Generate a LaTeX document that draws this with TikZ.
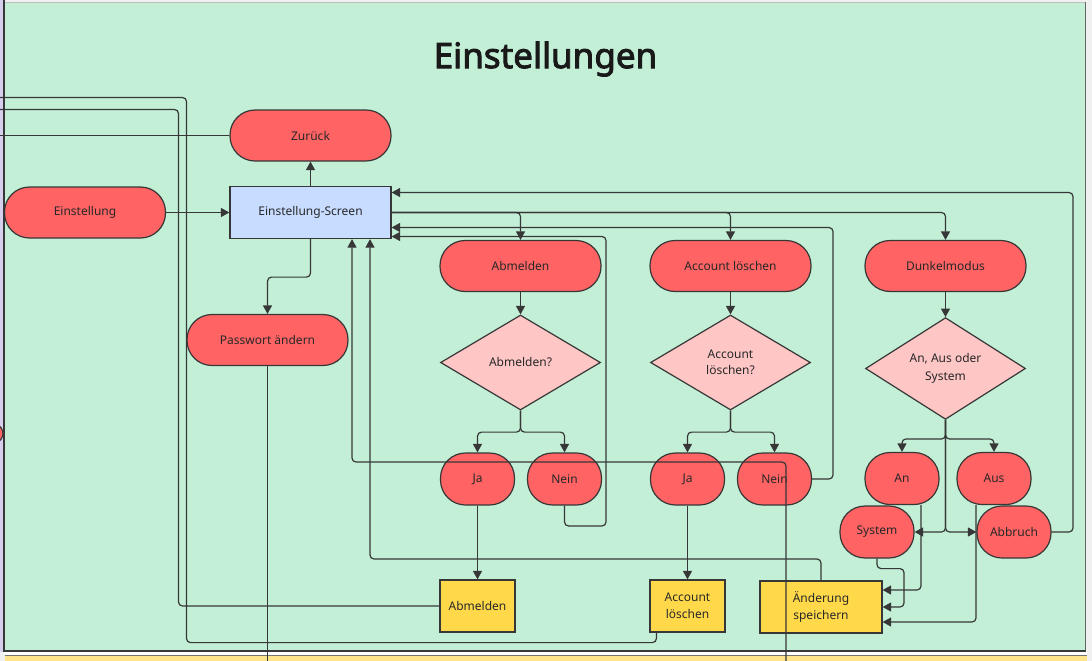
\documentclass[tikz,border=0pt]{standalone}
\usepackage{fontspec}
\setmainfont{Noto Sans}
\newfontfamily\titlefont{Noto Sans}[FakeBold=2.6]
\usetikzlibrary{arrows.meta,shapes.geometric}
\definecolor{bg}{RGB}{194,239,213}
\definecolor{lav}{RGB}{214,208,238}
\definecolor{redA}{RGB}{255,99,99}
\definecolor{pinkA}{RGB}{255,198,198}
\definecolor{yelA}{RGB}{255,217,74}
\definecolor{blueA}{RGB}{199,220,255}
\definecolor{ln}{RGB}{55,55,55}
\definecolor{txt}{RGB}{40,40,40}
\definecolor{ttl}{RGB}{25,25,25}
\definecolor{strip}{RGB}{255,228,140}
\begin{document}
\begin{tikzpicture}[x=1pt,y=-1pt,
  every node/.style={font=\fontsize{12}{16}\selectfont, text=txt},
  term/.style={draw=ln, line width=1.2pt, fill=redA, rounded corners=25pt, minimum width=161pt, minimum height=51pt, inner sep=0pt},
  pill/.style={term, minimum width=74pt, minimum height=52pt},
  dec/.style={diamond, draw=ln, line width=1.2pt, fill=pinkA, minimum width=160pt, minimum height=95pt, inner sep=0pt, align=center},
  ybox/.style={draw=ln, line width=1.2pt, fill=yelA, minimum width=75pt, minimum height=52pt, inner sep=0pt, align=center, font=\fontsize{12}{17}\selectfont},
  con/.style={draw=ln, line width=1.2pt, rounded corners=4pt},
  arr/.style={con, -{Triangle[length=8.5pt,width=9pt]}}
]
\useasboundingbox (0,0) rectangle (1092,661);
% background frame
\fill[white!94!black] (0,0) rectangle (1092,661);
\fill[lav] (0,0) rectangle (4,652);
\fill[bg] (4,3) rectangle (1085,651);
\draw[black!25, line width=0.8pt] (4,2.5) -- (1086,2.5);
\fill[white] (4,651.5) rectangle (1087,655);
\fill[strip] (5,656) rectangle (1087,661);
\draw[black!55, line width=0.8pt] (5,655.5) -- (1087,655.5);
\begin{scope}
\clip (0,0) rectangle (4,661);
\draw[fill=redA, draw=ln, line width=1.2pt] (-20,433.5) ellipse [x radius=23, y radius=14];
\end{scope}
\draw[ln, line width=1.5pt] (4,0) -- (4,652);
\draw[black!60, line width=1.5pt] (1085.5,2.5) -- (1085.5,652);
\draw[ln, line width=1.2pt] (4,651) -- (1086,651);

% title
\node[font=\titlefont\fontsize{35}{40}\selectfont, text=ttl] (title) at (545.5,59) {Einstellungen};

% nodes
\node[term] (zur) at (310.5,135.5) {Zurück};
\node[term] (ein) at (85,212.5) {Einstellung};
\node[draw=ln, line width=1.2pt, fill=blueA, minimum width=161pt, minimum height=52pt, inner sep=0pt] (scr) at (310.5,212.5) {Einstellung-Screen};
\node[term] (abm) at (520.5,266) {Abmelden};
\node[term] (acc) at (730.5,266) {Account löschen};
\node[term] (dun) at (945.5,266) {Dunkelmodus};
\node[term] (pw) at (267.5,340) {Passwort ändern};
\node[dec] (dab) at (520.5,362.5) {Abmelden?};
\node[dec] (dac) at (730.5,362.5) {Account\\löschen?};
\node[dec, font=\fontsize{12}{18}\selectfont] (ddm) at (945.5,368.5) {An, Aus oder\\System};
\node[pill] (ja1) at (477.5,479) {Ja};
\node[pill] (ne1) at (564.5,479) {Nein};
\node[pill] (ja2) at (687.5,479) {Ja};
\node[pill] (ne2) at (774.5,479) {Nein};
\node[pill] (an) at (902,478.5) {An};
\node[pill] (aus) at (994,478.5) {Aus};
\node[pill] (sys) at (877,532) {System};
\node[pill] (abr) at (1014,532) {Abbruch};
\node[ybox] (y1) at (477.5,606) {Abmelden};
\node[ybox] (y2) at (687.5,606) {Account\\löschen};
\node[ybox, minimum width=122pt] (y3) at (821,607) {Änderung\\speichern};

% free ends
\coordinate (L97) at (0,97.5);
\coordinate (L109) at (0,109.5);
\coordinate (L135) at (0,135.5);
\coordinate (B267) at (267.5,661);
\coordinate (B786) at (786,661);

% connectors
\draw[arr] (ein) -- (scr);
\draw[arr] (scr) -- (zur);
\draw[con] (zur) -- (L135);
\draw[con] (y1.west) -| (178.5,109.5) -- (L109);
\draw[con] ([xshift=7pt]y2.south west) -- ++(0,10) -| (186.5,97.5) -- (L97);
\draw[arr] (scr.south) -- ++(0,38) -| (pw.north);
\draw[con] (pw.south) -- (B267);
\draw[arr] (scr.east) -| (abm.north);
\draw[arr] (scr.east) -| (acc.north);
\draw[arr] (scr.east) -| (dun.north);
\draw[arr] (abr.east) -| (1073,192.5) -- ([yshift=20pt]scr.east);
\draw[arr] (ne2.east) -| (833,227.5) -- ([yshift=-15pt]scr.east);
\draw[arr] (ne1.south) |- (606,526) -- (606,236.5) -- ([yshift=-24pt]scr.east);
\draw[arr] (abm) -- (dab);
\draw[arr] (dab.south) -- ++(0,21.5) -| (ja1.north);
\draw[arr] (dab.south) -- ++(0,21.5) -| (ne1.north);
\draw[arr] (ja1.south) -- (ja1.south |- y1.north);
\draw[arr] (acc) -- (dac);
\draw[arr] (dac.south) -- ++(0,21.5) -| (ja2.north);
\draw[arr] (dac.south) -- ++(0,21.5) -| (ne2.north);
\draw[arr] (ja2) -- (y2);
\draw[arr] (dun) -- (ddm);
\draw[arr] (ddm.south) -- ++(0,19) -| (an.north);
\draw[arr] (ddm.south) -- ++(0,19) -| (aus.north);
\draw[arr] (ddm.south) |- (sys.east);
\draw[arr] (ddm.south) |- (abr.west);
\draw[arr] ([xshift=19pt]an.south) |- ([yshift=17pt]y3.east);
\draw[arr] (sys.south) -- ++(0,10) -| (904,607) -- (y3.east);
\draw[arr] ([xshift=-18pt]aus.south) |- ([yshift=-15pt]y3.east);
\draw[arr] (y3.north) |- (370,559) -- ([xshift=59.5pt]scr.south);
\draw[arr] (B786) |- (352,462) -- ([xshift=41.5pt]scr.south);
\end{tikzpicture}
\end{document}
